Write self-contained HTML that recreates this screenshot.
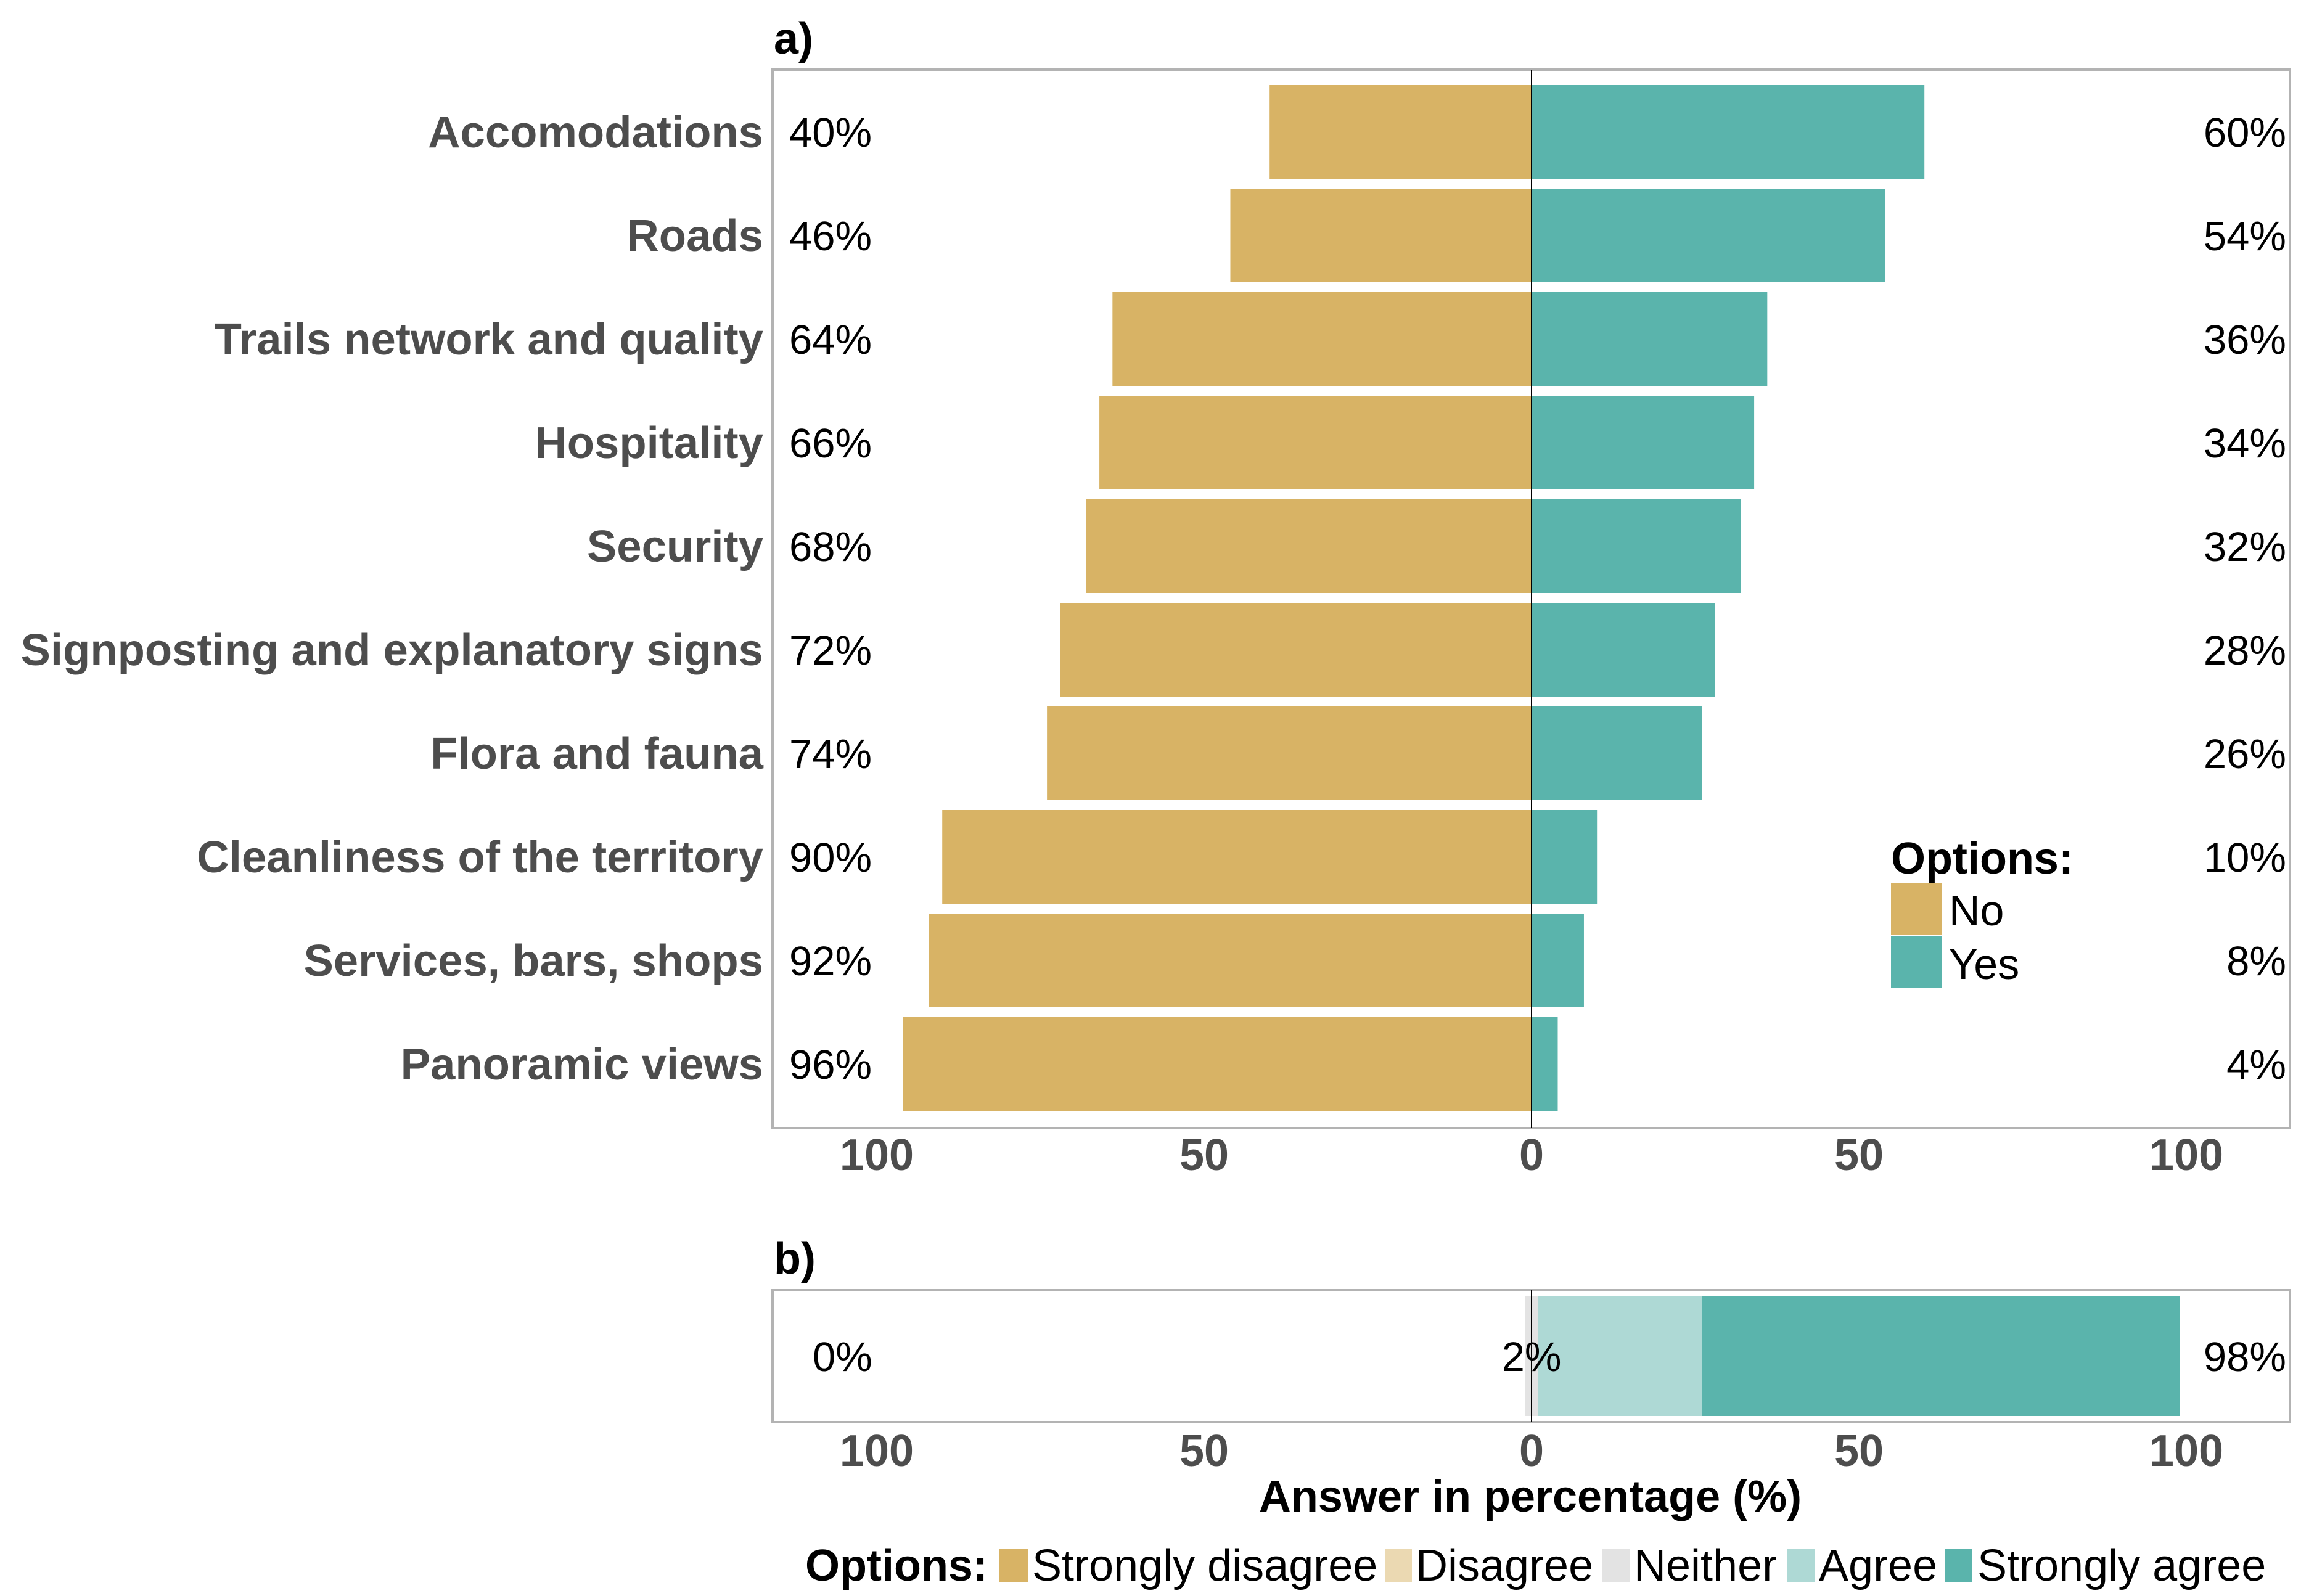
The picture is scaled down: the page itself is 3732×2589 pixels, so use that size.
<!DOCTYPE html>
<html><head><meta charset="utf-8">
<style>
html,body{margin:0;padding:0;background:#fff;}
svg{display:block;font-family:"Liberation Sans",Arial,sans-serif;}
</style></head>
<body>
<svg id="chart" width="3732" height="2589" viewBox="0 0 3732 2589">
<text x="1255" y="87" font-size="72" font-weight="bold" fill="#000">a)</text>
<text x="1255" y="2066" font-size="72" font-weight="bold" fill="#000">b)</text>
<g id="pa"></g>
<g id="pb"></g>
<text x="2482" y="2452" font-size="72" font-weight="bold" fill="#000" text-anchor="middle">Answer in percentage (%)</text>
<g id="legA">
<text x="3067" y="1417" font-size="72" font-weight="bold" fill="#000">Options:</text>
<rect x="3067" y="1433" width="82" height="84" fill="#d8b365"/>
<text x="3161" y="1501" font-size="70" fill="#000">No</text>
<rect x="3067" y="1519" width="82" height="84" fill="#5ab4ac"/>
<text x="3161" y="1588" font-size="70" fill="#000">Yes</text>
</g>
<g id="legB">
<text x="1306" y="2564" font-size="72" font-weight="bold" fill="#000">Options:</text>
<rect x="1620" y="2512" width="47" height="55" fill="#d8b365"/>
<text x="1674" y="2564" font-size="72" fill="#000">Strongly disagree</text>
<rect x="2246" y="2512" width="44" height="55" fill="#ebd9b2"/>
<text x="2296" y="2564" font-size="72" fill="#000">Disagree</text>
<rect x="2599" y="2512" width="44" height="55" fill="#e3e3e3"/>
<text x="2650" y="2564" font-size="72" fill="#000">Neither</text>
<rect x="2899" y="2512" width="44" height="55" fill="#aed9d5"/>
<text x="2950" y="2564" font-size="72" fill="#000">Agree</text>
<rect x="3154" y="2512" width="44" height="55" fill="#5ab4ac"/>
<text x="3207" y="2564" font-size="72" fill="#000">Strongly agree</text>
</g>
</svg>
<script>
const categories = ["Accomodations","Roads","Trails network and quality","Hospitality","Security","Signposting and explanatory signs","Flora and fauna","Cleanliness of the territory","Services, bars, shops","Panoramic views"];
const noValues = [40,46,64,66,68,72,74,90,92,96];
const yesValues = [60,54,36,34,32,28,26,10,8,4];
const tickValues = [-100,-50,0,50,100];
const tickLabels = ["100","50","0","50","100"];
const bSegNames = ["Neither","Agree","Strongly agree"];
const bSegValues = [2,25,73];
const bLabels = ["0%","2%","98%"];

const NS="http://www.w3.org/2000/svg";
const X0=2484, PXU=10.62;
function xs(v){return X0+v*PXU;}
const PL=1253, PR=3714;
const A_TOP=113, A_BOT=1830, Y_FIRST=214, PITCH=168, BH=152;
function yc(i){return Y_FIRST+i*PITCH;}
function mk(tag,attrs,parent){const e=document.createElementNS(NS,tag);for(const k in attrs)e.setAttribute(k,attrs[k]);parent.appendChild(e);return e;}

const pa=document.getElementById('pa');
const pb=document.getElementById('pb');

function panel(g,top,bot,nm){
  const r=mk('rect',{x:PL,y:top,width:PR-PL,height:bot-top,fill:'#fff',stroke:'#b3b3b3','stroke-width':4},g);
  
  
}
panel(pa,A_TOP,A_BOT,'panel-a');
panel(pb,2093,2307,'panel-b');

categories.forEach((c,i)=>{
  const y=yc(i);
  const r1=mk('rect',{x:xs(-noValues[i]),y:y-BH/2,width:xs(0)-xs(-noValues[i]),height:BH,fill:'#d8b365'},pa);
  
  
  const r2=mk('rect',{x:xs(0),y:y-BH/2,width:xs(yesValues[i])-xs(0),height:BH,fill:'#5ab4ac'},pa);
  
  
  const t=mk('text',{x:1238,y:y+25,'font-size':72.5,'font-weight':'bold',fill:'#4d4d4d','text-anchor':'end'},pa);
  t.textContent=c;
  
  
  const l=mk('text',{x:1280,y:y+24,'font-size':67,fill:'#000'},pa);
  l.textContent=noValues[i]+'%';
  
  
  const rl=mk('text',{x:3708,y:y+24,'font-size':67,fill:'#000','text-anchor':'end'},pa);
  rl.textContent=yesValues[i]+'%';
  
  
});
const z1=mk('line',{x1:xs(0),x2:xs(0),y1:A_TOP,y2:A_BOT,stroke:'#000','stroke-width':2},pa);



let cum=-bSegValues[0]/2;
const bCols=['#e3e3e3','#aed9d5','#5ab4ac'];
bSegValues.forEach((v,i)=>{
  const r=mk('rect',{x:xs(cum),y:2102,width:xs(cum+v)-xs(cum),height:195,fill:bCols[i]},pb);
  
  
  cum+=v;
});
const z2=mk('line',{x1:xs(0),x2:xs(0),y1:2093,y2:2307,stroke:'#000','stroke-width':2},pb);


const bpos=[[1318,'start'],[xs(0),'middle'],[3708,'end']];
bLabels.forEach((s,i)=>{
  const t=mk('text',{x:bpos[i][0],y:2224,'font-size':67,fill:'#000','text-anchor':bpos[i][1]},pb);
  t.textContent=s;
  
  
});

tickValues.forEach((v,i)=>{
  [[pa,1898],[pb,2378]].forEach(([g,by])=>{
    const t=mk('text',{x:xs(v),y:by,'font-size':72,'font-weight':'bold',fill:'#4d4d4d','text-anchor':'middle'},g);
    t.textContent=tickLabels[i];
    
    
  });
});
</script>
</body></html>
